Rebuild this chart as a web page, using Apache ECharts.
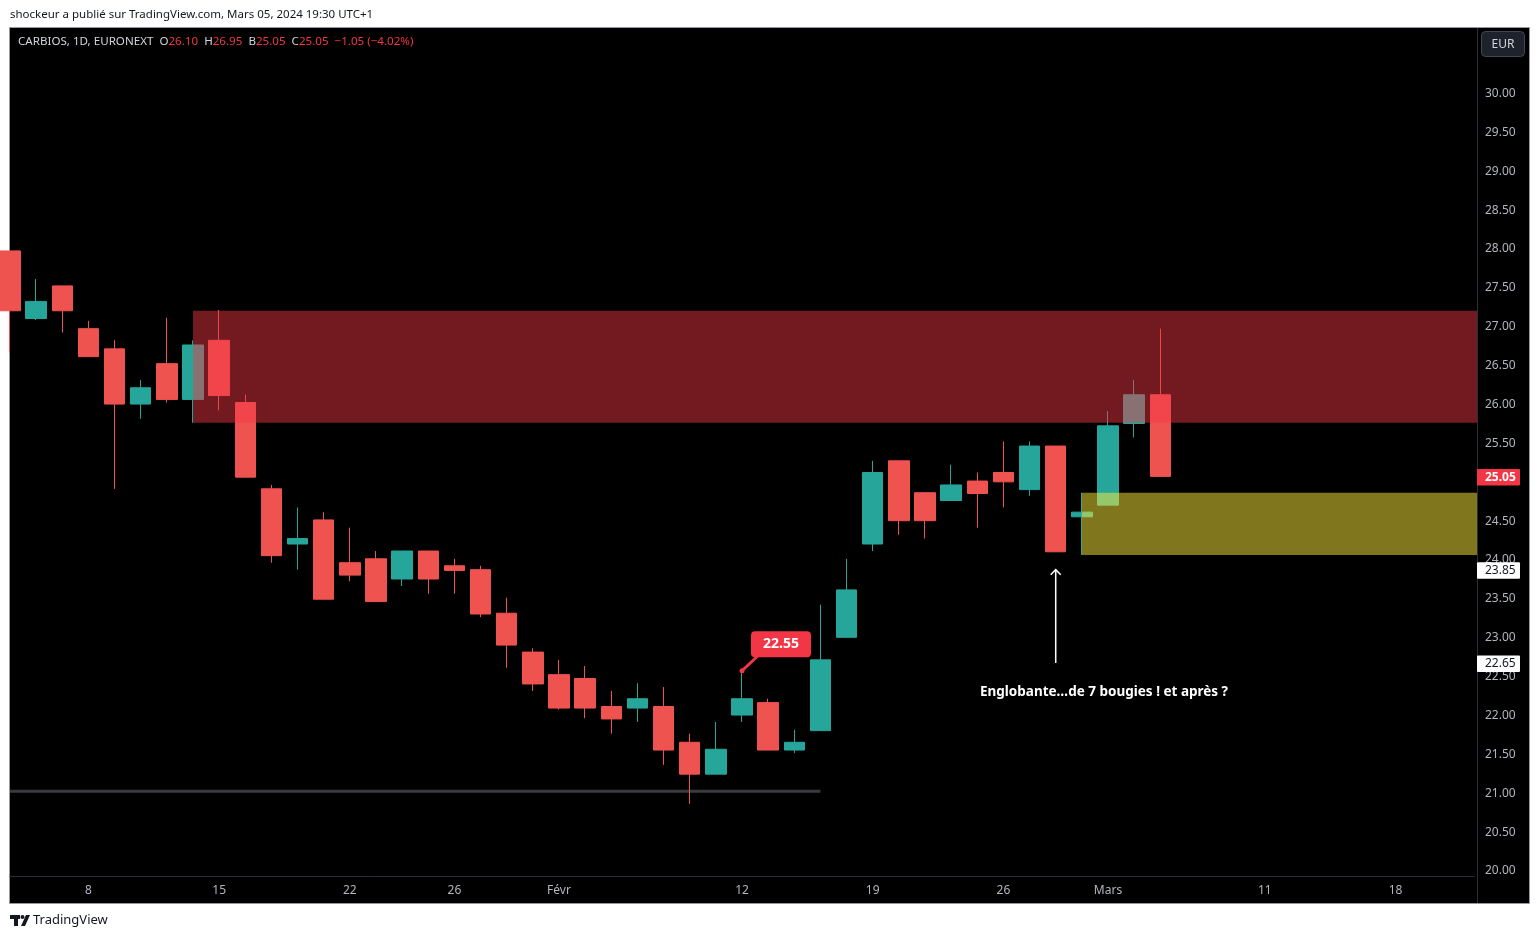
<!DOCTYPE html>
<html>
<head>
<meta charset="utf-8">
<script src="https://cdn.jsdelivr.net/npm/echarts@6/dist/echarts.min.js"></script>
<style>
html,body{margin:0;padding:0;background:#fff;}
#c{width:1539px;height:939px;}
</style>
</head>
<body>
<div id="c"></div>
<script>
// ---------- DATA ----------
const dates = [
  '2024-01-03','2024-01-04','2024-01-05','2024-01-08','2024-01-09','2024-01-10','2024-01-11','2024-01-12',
  '2024-01-15','2024-01-16','2024-01-17','2024-01-18','2024-01-19','2024-01-22','2024-01-23','2024-01-24',
  '2024-01-25','2024-01-26','2024-01-29','2024-01-30','2024-01-31','2024-02-01','2024-02-02','2024-02-05',
  '2024-02-06','2024-02-07','2024-02-08','2024-02-09','2024-02-12','2024-02-13','2024-02-14','2024-02-15',
  '2024-02-16','2024-02-19','2024-02-20','2024-02-21','2024-02-22','2024-02-23','2024-02-26','2024-02-27',
  '2024-02-28','2024-02-29','2024-03-01','2024-03-04','2024-03-05','2024-03-06','2024-03-07','2024-03-08',
  '2024-03-11','2024-03-12','2024-03-13','2024-03-14','2024-03-15','2024-03-18','2024-03-19','2024-03-20',
  '2024-03-21'
];
const openP = [
  27.95,27.08,27.50,26.95,26.69,25.98,26.50,26.04,26.80,26.00,24.89,24.18,24.49,23.94,23.99,23.73,24.09,23.90,23.85,23.29,22.79,
  22.50,22.45,22.09,22.07,22.09,21.63,21.22,21.98,22.14,21.53,21.78,22.98,24.18,25.25,24.84,24.74,24.99,25.10,24.88,25.44,24.53,
  24.68,25.73,26.10
];
const closeP = [
  27.18,27.30,27.18,26.59,25.98,26.19,26.04,26.74,26.09,25.04,24.03,24.25,23.47,23.78,23.44,24.09,23.73,23.84,23.28,22.88,22.38,
  22.07,22.07,21.93,22.19,21.53,21.22,21.54,22.19,21.53,21.63,22.69,23.59,25.10,24.48,24.48,24.94,24.83,24.98,25.44,24.08,24.59,
  25.70,26.10,25.05
];
const lowP = [
  26.64,27.06,26.90,26.59,24.89,25.79,26.00,25.74,25.90,25.04,23.94,23.85,23.47,23.70,23.44,23.64,23.54,23.54,23.24,22.59,22.29,
  22.05,21.94,21.74,21.89,21.34,20.84,21.22,21.89,21.53,21.49,21.78,22.98,24.09,24.30,24.25,24.74,24.39,24.65,24.80,24.08,24.04,
  24.68,25.55,25.05
];
const highP = [
  27.95,27.59,27.50,27.05,26.80,26.29,27.09,26.80,27.19,26.10,24.94,24.65,24.59,24.39,24.09,24.09,24.09,23.99,23.90,23.49,22.84,
  22.69,22.61,22.29,22.39,22.34,21.74,21.89,22.55,22.19,21.79,23.40,23.99,25.25,25.25,24.84,25.20,25.10,25.50,25.50,25.44,24.84,
  25.89,26.29,26.95
];
const tickDates = ['2024-01-08','2024-01-15','2024-01-22','2024-01-26','2024-02-01','2024-02-12','2024-02-19','2024-02-26','2024-03-01','2024-03-11','2024-03-18'];
const tickTexts = ['8','15','22','26','Févr','12','19','26','Mars','11','18'];
const priceTicks = [20,20.5,21,21.5,22,22.5,23,23.5,24,24.5,25,25.5,26,26.5,27,27.5,28,28.5,29,29.5,30];
const zoneFrom = ['2024-01-12','2024-02-29'];
const zoneTo = ['2024-03-21','2024-03-21'];
const zoneTop = [27.18,24.84];
const zoneBottom = [25.74,24.04];
const floorDates = ['2024-01-03','2024-02-15'];
const floorPrice = 21.00;
const arrowDate = '2024-02-28';
const arrowFrom = 22.65;
const arrowTo = 23.85;
const calloutDate = '2024-02-12';
const calloutPrice = 22.55;
const noteDate = '2024-03-01';
const notePrice = 22.27;
const noteText = 'Englobante…de 7 bougies ! et après ?';
const axisTagPrices = [25.05, 23.85, 22.65];
const headerText = 'CARBIOS, 1D, EURONEXT';
const headerO = '26.10', headerH = '26.95', headerB = '25.05', headerC = '25.05', headerChg = '−1.05 (−4.02%)';
const publishText = 'shockeur a publié sur TradingView.com, Mars 05, 2024 19:30 UTC+1';

// ---------- STYLE ----------
const UP = '#26a69a', DOWN = '#ef5350';
const FONT = '"Noto Sans", "Liberation Sans", sans-serif';
const zoneColors = ['rgba(242,54,69,0.475)', 'rgba(255,235,59,0.5)'];
const EDGE_PAD = 3; // price-scale separator sits a few px right of the last slot
const tagStyles = [
  {bg:'#f23645', fg:'#ffffff', weight:'bold'},
  {bg:'#ffffff', fg:'#131722', weight:'normal'},
  {bg:'#ffffff', fg:'#131722', weight:'normal'}
];
const lastPrice = closeP[closeP.length - 1];

const candles = openP.map((o, i) => [o, closeP[i], lowP[i], highP[i]]);
const lastDate = dates[dates.length - 1];

const chart = echarts.init(document.getElementById('c'), null, {renderer:'canvas'});
chart.setOption({
  animation: false,
  backgroundColor: '#ffffff',
  textStyle: {fontFamily: FONT},
  grid: {left: 10, right: 65, top: 27, bottom: 63, containLabel: false},
  xAxis: {
    type: 'category',
    data: dates,
    boundaryGap: false,
    axisLine: {show: true, lineStyle: {color: '#2a2e39', width: 1}},
    axisTick: {show: false},
    splitLine: {show: false},
    axisLabel: {
      color: '#b2b5be', fontSize: 12, margin: 9, fontFamily: FONT,
      interval: (idx, val) => tickDates.indexOf(val) >= 0,
      formatter: (val) => { const k = tickDates.indexOf(val); return k >= 0 ? tickTexts[k] : ''; }
    }
  },
  yAxis: {
    type: 'value',
    position: 'right',
    min: 19.91, max: 30.83,
    scale: true,
    axisLine: {show: false},
    axisTick: {show: false},
    splitLine: {show: false},
    axisLabel: {
      customValues: priceTicks,
      color: '#b2b5be', fontSize: 12, margin: 11, fontFamily: FONT,
      // like the trading platform, a scale label hidden behind the last-price tag is not drawn
      formatter: (v) => Math.abs(v - lastPrice) < 0.1 ? '' : '{p|' + v.toFixed(2) + '}',
      rich: {p: {color: '#b2b5be', fontSize: 12, fontFamily: FONT, padding: [4, 0, 0, 0]}}
    }
  },
  graphic: [
    {type:'rect', z:-100, shape:{x:9.5, y:27.5, width:1520, height:876}, style:{fill:'#000000', stroke:'#9598a1', lineWidth:1}},
    {type:'line', z:1, shape:{x1:1477.5, y1:28, x2:1477.5, y2:903}, style:{stroke:'#2a2e39', lineWidth:1}},
    {type:'text', z:100, x:10, y:9, style:{text: publishText, fill:'#131722', font:'11.5px ' + FONT}},
    {type:'text', z:100, x:18, y:36, style:{
      text: '{n|' + headerText + '}  {l|O}{v|' + headerO + '}  {l|H}{v|' + headerH + '}  {l|B}{v|' + headerB + '}  {l|C}{v|' + headerC + '}  {v|' + headerChg + '}',
      font: '11.6px ' + FONT,
      rich: {
        n: {fill:'#d1d4dc', font:'11.6px ' + FONT},
        l: {fill:'#d1d4dc', font:'11.6px ' + FONT},
        v: {fill:'#f23645', font:'11.6px ' + FONT}
      }
    }},
    {type:'rect', z:100, shape:{x:1481.5, y:31.5, width:43, height:25, r:4}, style:{fill:'#1e222d', stroke:'#434651', lineWidth:1}},
    {type:'text', z:101, x:1503, y:44.5, style:{text:'EUR', fill:'#d1d4dc', font:'12px ' + FONT, align:'center', verticalAlign:'middle'}},
    // TradingView logo
    {type:'rect', z:100, shape:{x:10, y:915, width:10, height:4}, style:{fill:'#131722'}},
    {type:'rect', z:100, shape:{x:14, y:915, width:4, height:11}, style:{fill:'#131722'}},
    {type:'circle', z:100, shape:{cx:22.5, cy:917, r:2}, style:{fill:'#131722'}},
    {type:'polygon', z:100, shape:{points:[[26,915],[30,915],[25,926],[21,926]]}, style:{fill:'#131722'}},
    {type:'text', z:100, x:33, y:914, style:{text:'TradingView', fill:'#131722', font:'13px ' + FONT}}
  ],
  series: [
    {
      type: 'line',
      z: 1,
      data: floorDates.map(d => [d, floorPrice]),
      symbol: 'none',
      lineStyle: {color: '#3a3b40', width: 3},
      silent: true
    },
    {
      type: 'candlestick',
      z: 2,
      data: candles,
      barWidth: 21,
      itemStyle: {color: UP, color0: DOWN, borderColor: UP, borderColor0: DOWN, borderWidth: 1},
      silent: true
    },
    {
      type: 'custom',
      z: 3,
      silent: true,
      clip: false,
      data: zoneFrom.map((f, i) => [f, zoneTo[i], zoneTop[i], zoneBottom[i]]),
      encode: {x: [0, 1], y: [2, 3]},
      renderItem: (params, api) => {
        const p1 = api.coord([api.value(0), api.value(2)]);
        const p2 = api.coord([api.value(1), api.value(3)]);
        return {type:'rect', shape:{x:p1[0], y:p1[1], width:p2[0]-p1[0]+EDGE_PAD, height:p2[1]-p1[1]},
                style:{fill: zoneColors[params.dataIndex]}};
      }
    },
    {
      type: 'custom',
      z: 4,
      silent: true,
      clip: false,
      data: [[arrowDate, arrowFrom, arrowTo]],
      encode: {x: 0, y: [1, 2]},
      renderItem: (params, api) => {
        const a = api.coord([api.value(0), api.value(1)]);
        const b = api.coord([api.value(0), api.value(2)]);
        return {type:'group', children:[
          {type:'line', shape:{x1:a[0], y1:a[1], x2:b[0], y2:b[1]}, style:{stroke:'#ffffff', lineWidth:1.5}},
          {type:'polyline', shape:{points:[[b[0]-5, b[1]+5],[b[0], b[1]],[b[0]+5, b[1]+5]]}, style:{stroke:'#ffffff', lineWidth:1.5, fill:null}}
        ]};
      }
    },
    {
      type: 'custom',
      z: 5,
      silent: true,
      clip: false,
      data: [[calloutDate, calloutPrice]],
      encode: {x: 0, y: 1},
      renderItem: (params, api) => {
        const p = api.coord([api.value(0), api.value(1)]);
        return {type:'group', children:[
          {type:'line', shape:{x1:p[0], y1:p[1], x2:p[0]+16, y2:p[1]-15}, style:{stroke:'#f23645', lineWidth:3}},
          {type:'circle', shape:{cx:p[0], cy:p[1], r:2.5}, style:{fill:'#f23645'}},
          {type:'rect', shape:{x:p[0]+9, y:p[1]-39.5, width:60, height:26, r:4}, style:{fill:'#f23645'}},
          {type:'text', style:{x:p[0]+39, y:p[1]-26.5, text: api.value(1).toFixed(2), fill:'#ffffff',
            font:'bold 14px ' + FONT, align:'center', verticalAlign:'middle'}}
        ]};
      }
    },
    {
      type: 'custom',
      z: 5,
      silent: true,
      clip: false,
      data: [[noteDate, notePrice]],
      encode: {x: 0, y: 1},
      renderItem: (params, api) => {
        const p = api.coord([api.value(0), api.value(1)]);
        return {type:'text', style:{x:p[0]-4, y:p[1], text: noteText, fill:'#ffffff',
          font:'bold 13.5px ' + FONT, align:'center', verticalAlign:'middle'}};
      }
    },
    {
      type: 'custom',
      z: 20,
      silent: true,
      clip: false,
      data: axisTagPrices.map(v => [lastDate, v]),
      encode: {x: 0, y: 1},
      renderItem: (params, api) => {
        const p = api.coord([api.value(0), api.value(1)]);
        const s = tagStyles[params.dataIndex];
        const x0 = p[0] + EDGE_PAD;
        return {type:'group', children:[
          {type:'rect', shape:{x:x0, y:p[1]-7.5, width:43, height:16.5, r:1}, style:{fill:s.bg}},
          {type:'text', style:{x:x0+8, y:p[1]+1, text: api.value(1).toFixed(2), fill:s.fg,
            font: s.weight + ' 12px ' + FONT, align:'left', verticalAlign:'middle'}}
        ]};
      }
    }
  ]
});
</script>
</body>
</html>
